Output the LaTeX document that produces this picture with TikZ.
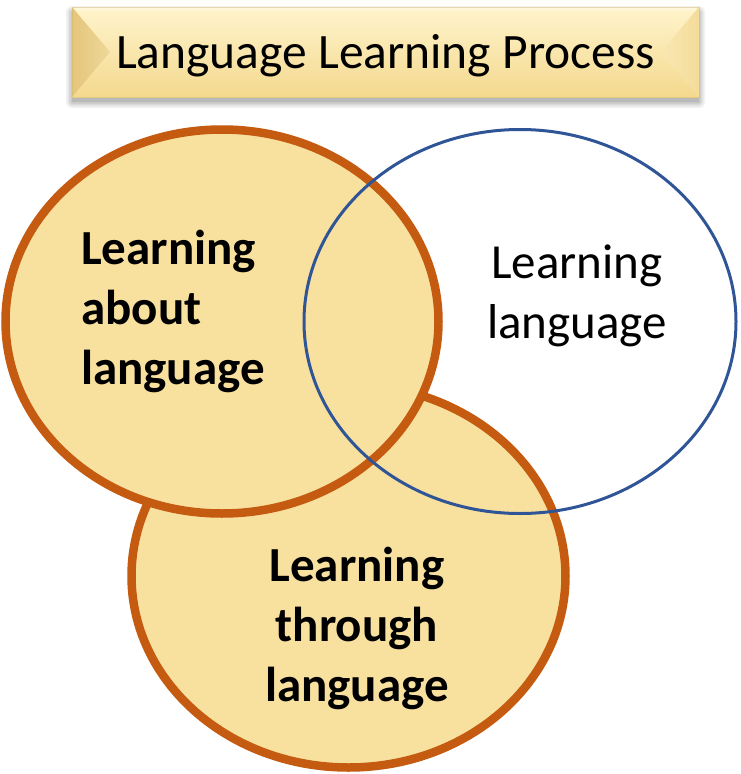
\documentclass[tikz,border=0pt]{standalone}
\usepackage{fontspec}
\setmainfont{Carlito}
\usetikzlibrary{shapes.geometric}
\definecolor{ringorange}{HTML}{C55A11}
\definecolor{ringfill}{HTML}{F8E09E}
\definecolor{ringblue}{HTML}{2F5597}
\definecolor{goldtop}{HTML}{FFF4CC}
\definecolor{goldbot}{HTML}{F4D98E}
\definecolor{goldleft}{HTML}{E4C57A}
\definecolor{goldright}{HTML}{F4DC9A}
\tikzset{
  ringtext/.style={inner sep=0pt, font=\fontsize{49}{60}\selectfont},
  orangering/.style={draw=ringorange, line width=8.5pt, fill=ringfill},
  bluering/.style={draw=ringblue, line width=3pt},
}
\begin{document}
\begin{tikzpicture}[x=1pt,y=-1pt]
\useasboundingbox (0,0) rectangle (740,774);
% title shadow
\foreach \k/\o in {6/0.05,4.5/0.05,3/0.06,1.5/0.07,0/0.08}{
  \fill[black, opacity=\o, rounded corners=\k pt] (72-\k,12-\k) rectangle (699+\k,102+\k);
}
% title box
\shade[top color=goldtop, bottom color=goldbot] (72,7) rectangle (699,97);
\shade[left color=goldleft, right color=goldleft!60!goldtop] (72,7) -- (110,52) -- (72,97) -- cycle;
\shade[right color=goldright, left color=goldright!50!goldtop] (699,7) -- (661,52) -- (699,97) -- cycle;
\fill[white, opacity=0.35] (72,7) -- (699,7) -- (694,10) -- (77,10) -- cycle;
\draw[goldbot!85!black, line width=0.6pt, opacity=0.5] (72,7) rectangle (699,97);
\node[inner sep=0pt, font=\fontsize{49.5}{58}\selectfont, anchor=base] (title) at (385.5,68.5) {Language Learning Process};
% circles
\path[orangering] (348.5,576) ellipse [x radius=217, y radius=191.5];
\path[orangering] (222,321.5) ellipse [x radius=216.5, y radius=192];
\draw[bluering] (520,321.5) ellipse [x radius=216, y radius=192];
% labels
\node[ringtext, align=left, font=\fontsize{49}{60}\selectfont\bfseries, anchor=west] (about) at (81,311) {Learning\\about\\language};
\node[ringtext, align=center] (lang) at (577,296) {Learning\\language};
\node[ringtext, align=center, font=\fontsize{49}{60}\selectfont\bfseries] (through) at (357,628) {Learning\\through\\language};
\end{tikzpicture}
\end{document}
